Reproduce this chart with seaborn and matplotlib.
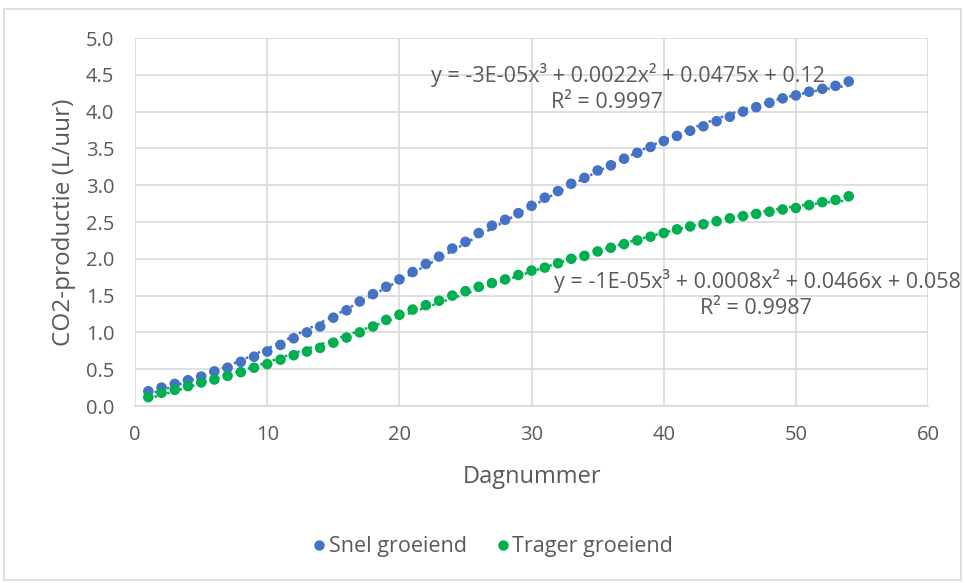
import numpy as np
import pandas as pd
import matplotlib
matplotlib.use("Agg")
import matplotlib.pyplot as plt
import seaborn as sns
from matplotlib.patches import Rectangle
from matplotlib.lines import Line2D

days = list(range(1, 55))
snel = [0.20, 0.25, 0.30, 0.35, 0.40, 0.47, 0.52, 0.60, 0.67, 0.74,
        0.83, 0.92, 1.00, 1.08, 1.20, 1.30, 1.42, 1.52, 1.62, 1.72,
        1.82, 1.93, 2.03, 2.14, 2.23, 2.35, 2.45, 2.53, 2.62, 2.72,
        2.83, 2.92, 3.02, 3.10, 3.20, 3.27, 3.36, 3.44, 3.52, 3.60,
        3.67, 3.74, 3.80, 3.87, 3.93, 4.00, 4.06, 4.12, 4.18, 4.22,
        4.27, 4.31, 4.35, 4.41]
trager = [0.12, 0.18, 0.22, 0.27, 0.32, 0.36, 0.41, 0.46, 0.52, 0.57,
          0.63, 0.69, 0.74, 0.79, 0.86, 0.93, 1.00, 1.08, 1.17, 1.24,
          1.31, 1.37, 1.43, 1.50, 1.56, 1.62, 1.67, 1.72, 1.78, 1.84,
          1.88, 1.94, 2.00, 2.04, 2.10, 2.15, 2.20, 2.25, 2.30, 2.35,
          2.40, 2.44, 2.47, 2.51, 2.55, 2.58, 2.61, 2.64, 2.67, 2.69,
          2.73, 2.77, 2.80, 2.85]
series_names = ["Snel groeiend", "Trager groeiend"]
colors = ["#4472C4", "#00B050"]
eq_snel = "y = -3E-05x³ + 0.0022x² + 0.0475x + 0.12"
r2_snel = "R² = 0.9997"
eq_trager = "y = -1E-05x³ + 0.0008x² + 0.0466x + 0.058"
r2_trager = "R² = 0.9987"

sns.set_theme(style="white")
plt.rcParams['font.family'] = ['Open Sans', 'DejaVu Sans']
txt = "#595959"
grid = "#D9D9D9"

fig = plt.figure(figsize=(9.65, 5.83), dpi=100)
ax = fig.add_axes([0.140, 0.3036, 0.8217, 0.6312])

df = pd.DataFrame({"Dag": days * 2,
                   "CO2": snel + trager,
                   "Serie": [series_names[0]] * len(days) + [series_names[1]] * len(days)})

for name, col in zip(series_names, colors):
    sub = df[df["Serie"] == name]
    sns.regplot(data=sub, x="Dag", y="CO2", order=3, ci=None, scatter=False, ax=ax,
                line_kws=dict(color=col, lw=1.8, linestyle=(0, (1, 1.6))), truncate=True)
sns.scatterplot(data=df, x="Dag", y="CO2", hue="Serie", palette=colors, s=58,
                edgecolor="none", ax=ax, legend=False, zorder=3)

ax.set_xlim(0, 60)
ax.set_ylim(0, 5.0)
ax.set_xticks(np.arange(0, 61, 10))
ax.set_yticks(np.arange(0, 5.01, 0.5))
ax.set_yticklabels([f"{v:.1f}" for v in np.arange(0, 5.01, 0.5)])
ax.grid(True, color=grid, lw=1.2)
ax.set_axisbelow(True)
for s in ["top", "right", "left"]:
    ax.spines[s].set_visible(False)
ax.spines["bottom"].set_color(grid)
ax.spines["bottom"].set_linewidth(1.2)
ax.tick_params(axis="both", length=0, labelsize=14.5, colors=txt)
ax.tick_params(axis="y", pad=15)
ax.tick_params(axis="x", pad=14)
ax.set_xlabel("Dagnummer", fontsize=17, color=txt, labelpad=14)
ax.set_ylabel("CO2-productie (L/uur)", fontsize=17.5, color=txt, labelpad=7)

ax.text(37.3, 4.50, eq_snel, fontsize=15.5, color=txt, ha="center", va="center")
ax.text(35.7, 4.12, r2_snel, fontsize=15.5, color=txt, ha="center", va="center")
ax.text(47.1, 1.70, eq_trager, fontsize=15.5, color=txt, ha="center", va="center")
ax.text(47.0, 1.32, r2_trager, fontsize=15.5, color=txt, ha="center", va="center")

handles = [Line2D([], [], marker="o", ls="none", color=c, markersize=6.5) for c in colors]
fig.legend(handles, series_names, loc="center", bbox_to_anchor=(0.512, 0.062), ncol=2,
           frameon=False, fontsize=15.5, handlelength=0.4, handletextpad=0.25,
           columnspacing=1.47, labelcolor=txt)

fig.patches.append(Rectangle((0.004, 0.006), 0.992, 0.979, transform=fig.transFigure,
                             fill=False, edgecolor="#D9D9D9", lw=1.2))

fig.savefig("out.png", dpi=100, facecolor="white")
